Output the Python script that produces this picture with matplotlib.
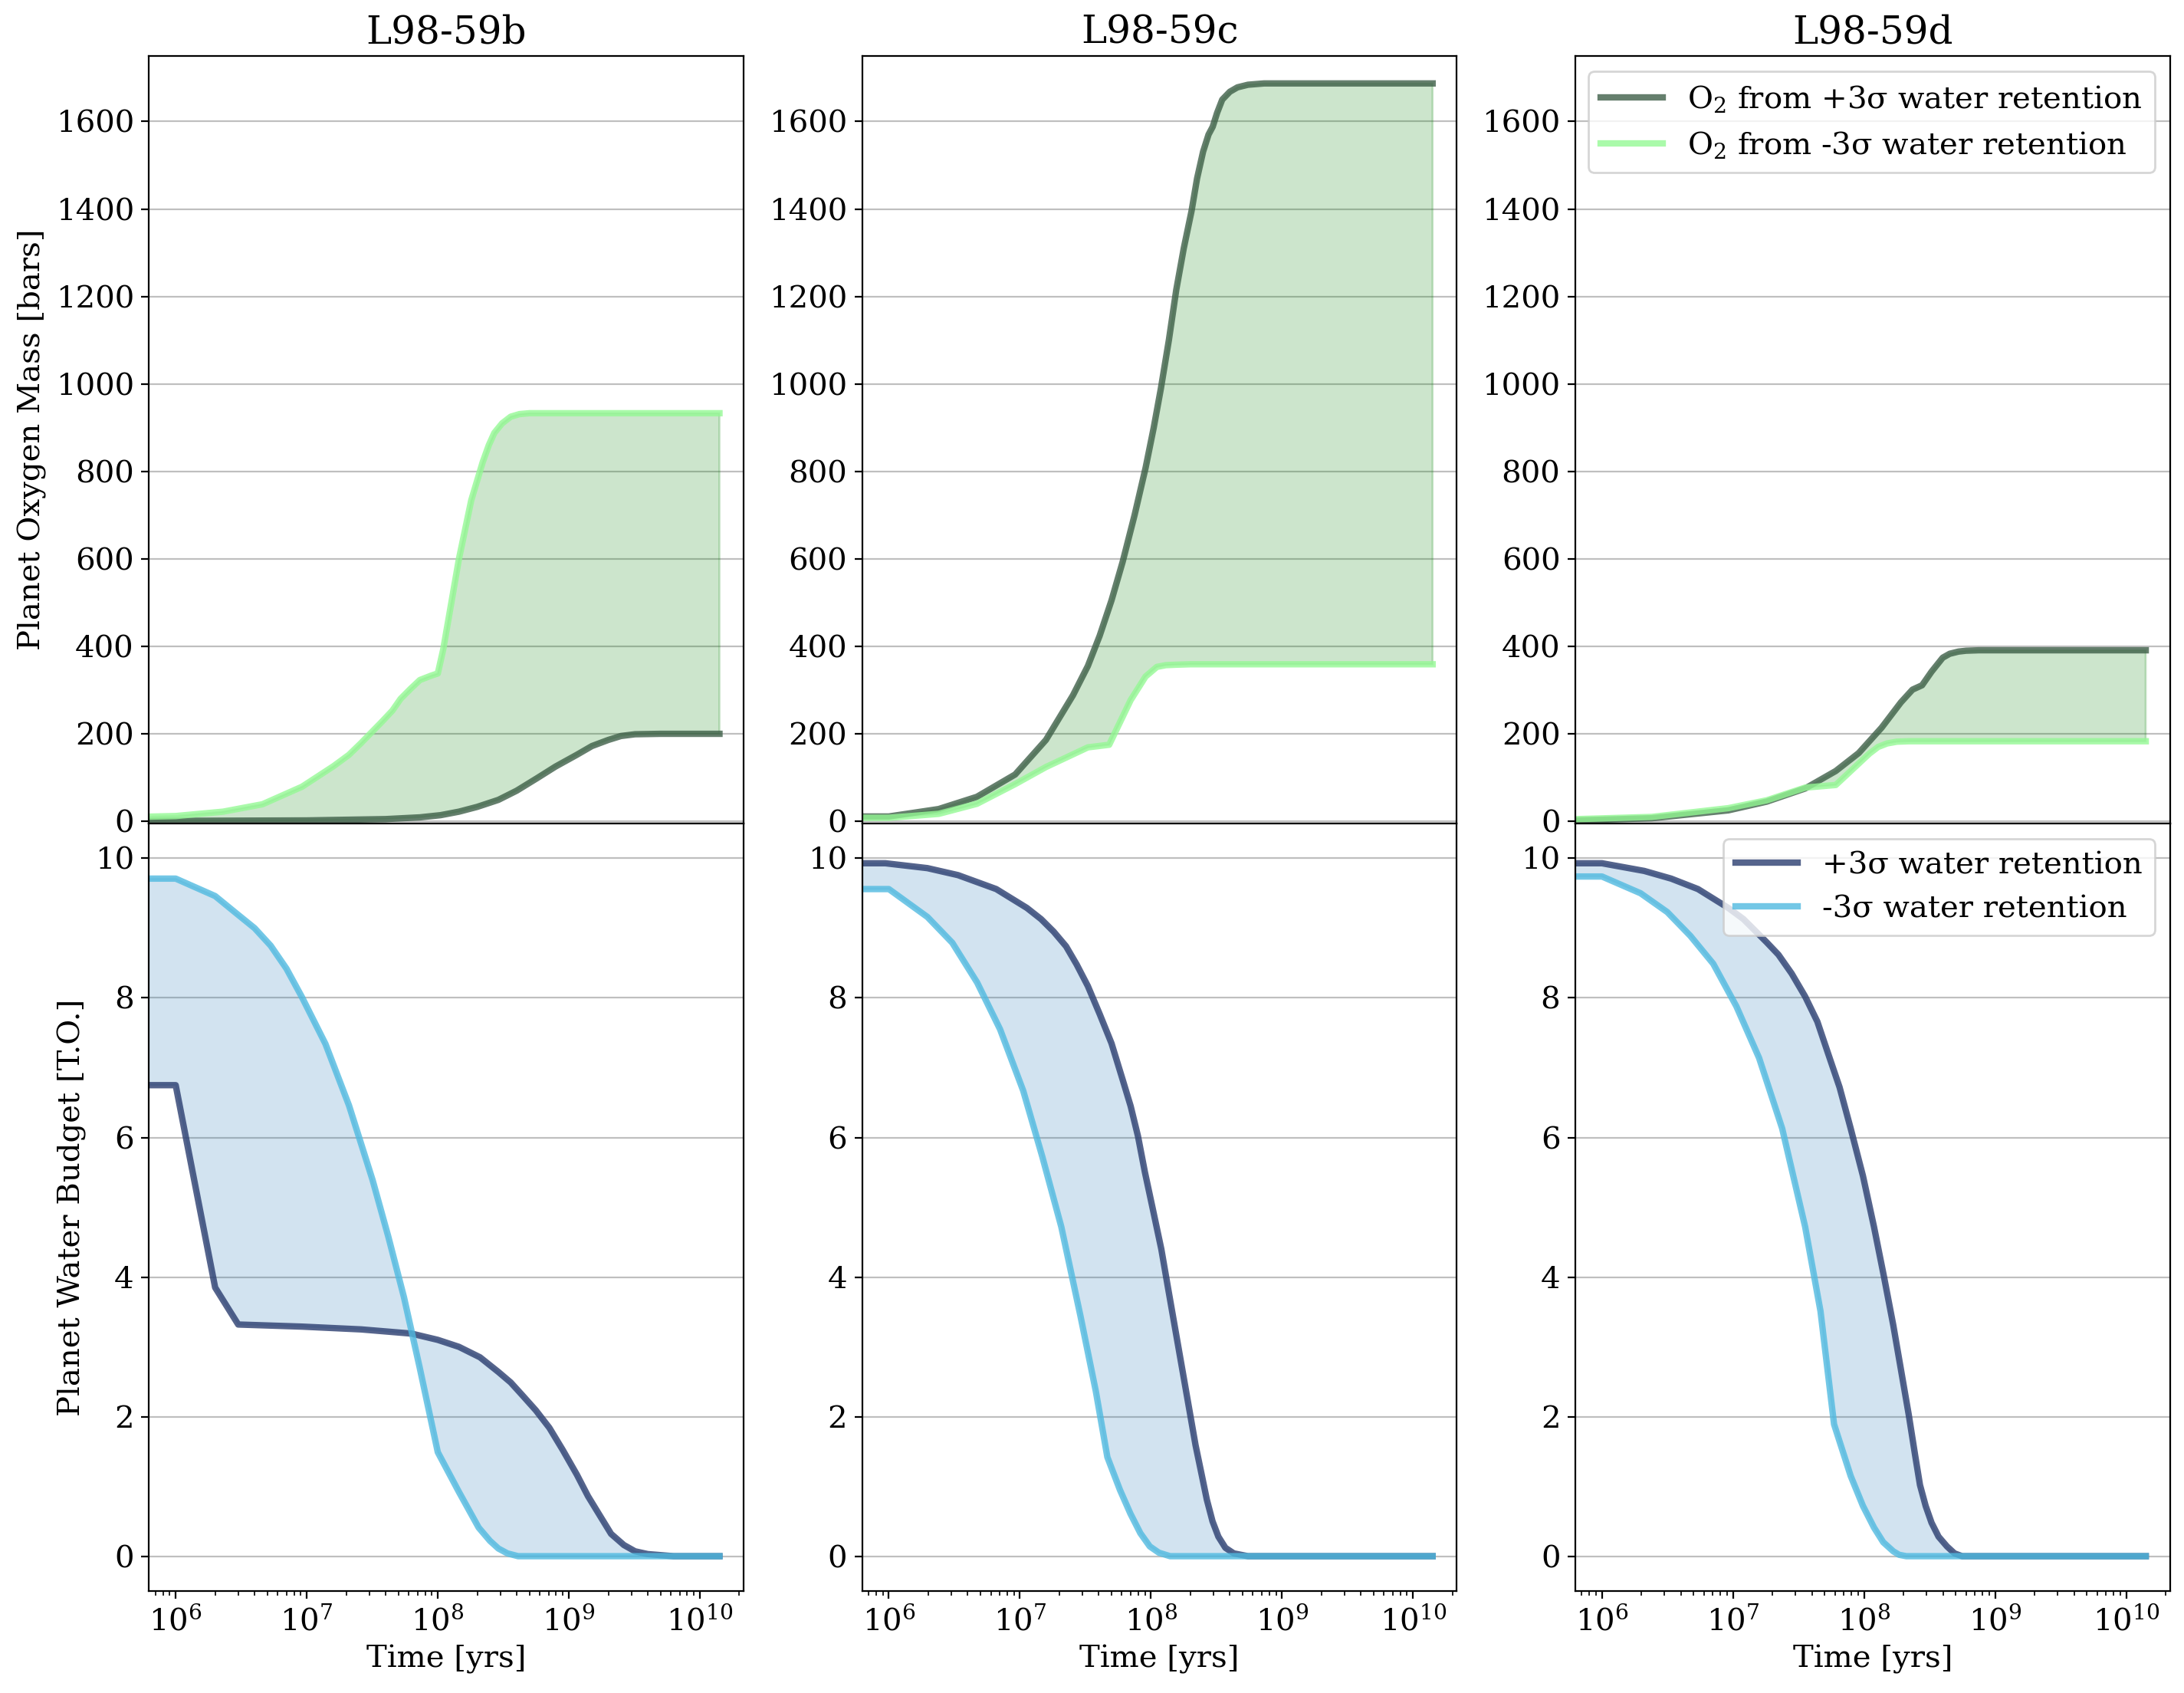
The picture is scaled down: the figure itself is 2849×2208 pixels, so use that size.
import numpy as np
import matplotlib
matplotlib.use('Agg')
import matplotlib.pyplot as plt

plt.rcParams['font.family'] = 'serif'
plt.rcParams['font.serif'] = ['DejaVu Serif']
plt.rcParams['mathtext.fontset'] = 'dejavuserif'
plt.rcParams['font.size'] = 14.5

#---------DATA----------------------------------
planets = ['L98-59b', 'L98-59c', 'L98-59d']

# oxygen [bars], +3 sigma and -3 sigma water retention
b_o2_hi_t = [5e5, 1e6, 1e7, 4e7, 7.3e7, 1.05e8, 1.45e8, 2e8, 2.9e8, 4e8, 5.75e8, 7.9e8, 1.15e9, 1.5e9,
             2e9, 2.5e9, 3.2e9, 5e9, 1.41e10]
b_o2_hi = [0, 1, 2, 5, 9, 14, 22, 33, 49, 70, 99, 125, 152, 172, 186, 195, 199, 200, 200]
b_o2_lo_t = [5e5, 1e6, 2.3e6, 4.6e6, 9.2e6, 1.6e7, 2.1e7, 2.6e7, 3.7e7, 4.5e7, 5.2e7, 6.2e7, 7.3e7, 8.9e7,
             1e8, 1.1e8, 1.45e8, 1.8e8, 2.2e8, 2.45e8, 2.7e8, 3.1e8, 3.6e8, 4.2e8, 5e8, 1.41e10]
b_o2_lo = [10, 12, 22, 39, 79, 126, 152, 179, 226, 253, 280, 303, 323, 333, 338, 393, 600, 734, 821, 860,
           888, 910, 925, 931, 933, 933]

c_o2_hi_t = [5e5, 1e6, 2.4e6, 4.7e6, 9.2e6, 1.58e7, 2.54e7, 3.3e7, 4.06e7, 5e7, 6.08e7, 7.5e7, 9.1e7,
             1.05e8, 1.19e8, 1.37e8, 1.56e8, 1.78e8, 2.04e8, 2.25e8, 2.5e8, 2.75e8, 2.96e8, 3.2e8,
             3.5e8, 4e8, 4.57e8, 5.5e8, 7.3e8, 1.41e10]
c_o2_hi = [11, 11, 28, 56, 107, 186, 288, 355, 424, 505, 593, 700, 808, 900, 989, 1100, 1215, 1310,
           1395, 1470, 1531, 1570, 1588, 1620, 1650, 1668, 1678, 1684, 1687, 1687]
c_o2_lo_t = [5e5, 1e6, 2.4e6, 4.7e6, 9.2e6, 1.58e7, 2.54e7, 3.3e7, 4.8e7, 7e7, 9.1e7, 1.11e8, 1.3e8,
             1.56e8, 2e8, 1.41e10]
c_o2_lo = [8, 8, 17, 40, 85, 124, 153, 169, 175, 277, 331, 353, 357, 358, 359, 359]

d_o2_hi_t = [5e5, 2.4e6, 9.2e6, 1.81e7, 3.55e7, 6.08e7, 9.1e7, 1.36e8, 1.91e8, 2.34e8, 2.77e8,
             3.27e8, 3.98e8, 4.5e8, 5.25e8, 6e8, 7.5e8, 1.41e10]
d_o2_hi = [1, 7, 25, 45, 75, 115, 156, 214, 272, 301, 311, 342, 374, 383, 388, 390, 391, 391]
d_o2_lo_t = [5e5, 2.4e6, 9.2e6, 1.81e7, 3.55e7, 6.08e7, 9.1e7, 1.1e8, 1.28e8, 1.5e8, 1.78e8, 2.2e8,
             3e8, 1.41e10]
d_o2_lo = [4, 10, 30, 48, 77, 83, 132, 155, 170, 178, 182, 183, 183, 183]

# water budget [T.O.]
b_w_hi_t = [5e5, 1e6, 2e6, 3e6, 9.2e6, 2.6e7, 6.3e7, 1e8, 1.45e8, 2.1e8, 2.9e8, 3.6e8, 4.4e8, 5.6e8,
            7.1e8, 9e8, 1.15e9, 1.4e9, 1.74e9, 2.1e9, 2.63e9, 3.2e9, 4e9, 6.3e9, 1.41e10]
b_w_hi = [6.75, 6.75, 3.85, 3.32, 3.29, 3.25, 3.19, 3.1, 3.0, 2.85, 2.64, 2.49, 2.31, 2.09, 1.84, 1.52,
          1.17, 0.86, 0.57, 0.32, 0.16, 0.07, 0.03, 0, 0]
b_w_lo_t = [5e5, 1e6, 2e6, 3e6, 4e6, 5.3e6, 7e6, 9.2e6, 1.39e7, 2.1e7, 3.18e7, 4.19e7, 5.52e7, 7.28e7,
            1e8, 1.45e8, 2.05e8, 2.5e8, 2.9e8, 3.4e8, 4.1e8, 1.41e10]
b_w_lo = [9.71, 9.71, 9.46, 9.19, 9.0, 8.75, 8.42, 8.01, 7.34, 6.46, 5.39, 4.58, 3.71, 2.70, 1.49,
          0.92, 0.41, 0.22, 0.11, 0.04, 0, 0]

c_w_hi_t = [5e5, 9.4e5, 1.97e6, 3.37e6, 6.6e6, 1.13e7, 1.45e7, 1.81e7, 2.25e7, 2.71e7, 3.3e7, 4.06e7,
            5e7, 6.08e7, 7e7, 7.96e7, 9e7, 1.04e8, 1.2e8, 1.36e8, 1.79e8, 2.19e8, 2.45e8, 2.67e8,
            2.95e8, 3.27e8, 3.7e8, 4.29e8, 5.5e8, 1.41e10]
c_w_hi = [9.93, 9.93, 9.86, 9.76, 9.56, 9.29, 9.13, 8.95, 8.74, 8.48, 8.17, 7.77, 7.35, 6.83, 6.45,
          6.02, 5.5, 4.95, 4.4, 3.81, 2.53, 1.59, 1.15, 0.81, 0.5, 0.28, 0.12, 0.04, 0, 0]
c_w_lo_t = [5e5, 1e6, 1.97e6, 3.05e6, 4.72e6, 7.06e6, 1.06e7, 1.48e7, 2.07e7, 2.9e7, 3.8e7, 4.65e7,
            5.8e7, 6.97e7, 8.3e7, 9.8e7, 1.15e8, 1.4e8, 1.41e10]
c_w_lo = [9.56, 9.56, 9.16, 8.79, 8.22, 7.55, 6.67, 5.73, 4.72, 3.44, 2.36, 1.42, 0.95, 0.61, 0.33,
          0.14, 0.05, 0, 0]

d_w_hi_t = [5e5, 1e6, 2.1e6, 3.37e6, 5.4e6, 9.2e6, 1.2e7, 1.48e7, 1.8e7, 2.22e7, 2.8e7, 3.55e7, 4.4e7,
            5.3e7, 6.5e7, 7.9e7, 9.8e7, 1.19e8, 1.42e8, 1.67e8, 2.19e8, 2.45e8, 2.67e8, 2.95e8,
            3.27e8, 3.7e8, 4.29e8, 4.9e8, 5.6e8, 1.41e10]
d_w_hi = [9.93, 9.93, 9.82, 9.71, 9.56, 9.29, 9.13, 8.96, 8.8, 8.62, 8.35, 8.02, 7.66, 7.21, 6.72,
          6.13, 5.45, 4.72, 4.0, 3.31, 2.03, 1.45, 1.02, 0.72, 0.48, 0.28, 0.14, 0.04, 0, 0]
d_w_lo_t = [5e5, 1e6, 1.97e6, 3.15e6, 4.72e6, 7.06e6, 1.06e7, 1.58e7, 2.37e7, 3.55e7, 4.65e7, 5.9e7,
            7.9e7, 9.8e7, 1.19e8, 1.4e8, 1.67e8, 1.85e8, 2.1e8, 1.41e10]
d_w_lo = [9.74, 9.74, 9.5, 9.23, 8.89, 8.49, 7.88, 7.14, 6.13, 4.72, 3.51, 1.89, 1.15, 0.72, 0.41,
          0.2, 0.07, 0.02, 0, 0]

o2_data = [(b_o2_hi_t, b_o2_hi, b_o2_lo_t, b_o2_lo),
           (c_o2_hi_t, c_o2_hi, c_o2_lo_t, c_o2_lo),
           (d_o2_hi_t, d_o2_hi, d_o2_lo_t, d_o2_lo)]
w_data = [(b_w_hi_t, b_w_hi, b_w_lo_t, b_w_lo),
          (c_w_hi_t, c_w_hi, c_w_lo_t, c_w_lo),
          (d_w_hi_t, d_w_hi, d_w_lo_t, d_w_lo)]

#---------COLORS------------
col_o2_hi = '#3E5F48'
col_o2_lo = '#95F995'
col_w_hi = '#2B3D6F'
col_w_lo = '#50BAE0'


def band(ax, t1, y1, t2, y2, color):
    # shaded region between the two curves
    xs = np.concatenate([np.array(t1), np.array(t2)[::-1]])
    ys = np.concatenate([np.array(y1), np.array(y2)[::-1]])
    ax.fill(xs, ys, color=color, alpha=0.2)


#---------PLOTTING------------
fig, axes = plt.subplots(2, 3, figsize=(14.245, 11.04), sharex=True)
fig.subplots_adjust(left=0.0682, right=0.9936, top=0.967, bottom=0.0602, hspace=0, wspace=0.199)

for i in range(3):
    ax = axes[0, i]
    t_hi, y_hi, t_lo, y_lo = o2_data[i]
    band(ax, t_hi, y_hi, t_lo, y_lo, 'green')
    ax.plot(t_hi, y_hi, color=col_o2_hi, lw=3, alpha=0.8, label=r'O$_2$ from +3σ water retention')
    ax.plot(t_lo, y_lo, color=col_o2_lo, lw=3, alpha=0.8, label=r'O$_2$ from -3σ water retention')
    ax.set_xscale('log')
    ax.set_ylim(-5, 1750)
    ax.set_yticks(np.arange(0, 1601, 200))
    ax.grid(axis='y', color='gray', alpha=0.5)
    ax.set_axisbelow(True)
    ax.tick_params(axis='x', which='both', bottom=False, labelbottom=False)
    ax.set_title(planets[i], fontsize=18)

    ax = axes[1, i]
    t_hi, y_hi, t_lo, y_lo = w_data[i]
    band(ax, t_hi, y_hi, t_lo, y_lo, 'tab:blue')
    ax.plot(t_hi, y_hi, color=col_w_hi, lw=3, alpha=0.8, label='+3σ water retention')
    ax.plot(t_lo, y_lo, color=col_w_lo, lw=3, alpha=0.8, label='-3σ water retention')
    ax.set_xscale('log')
    ax.set_ylim(-0.5, 10.5)
    ax.set_yticks([0, 2, 4, 6, 8, 10])
    ax.grid(axis='y', color='gray', alpha=0.5)
    ax.set_axisbelow(True)
    ax.set_xlabel('Time [yrs]')

axes[1, 0].set_xlim(6.25e5, 2.16e10)
axes[0, 0].set_ylabel('Planet Oxygen Mass [bars]')
axes[1, 0].set_ylabel('Planet Water Budget [T.O.]')
axes[0, 2].legend(loc='upper right')
axes[1, 2].legend(loc='upper right')

plt.savefig('out.png', dpi=200)
